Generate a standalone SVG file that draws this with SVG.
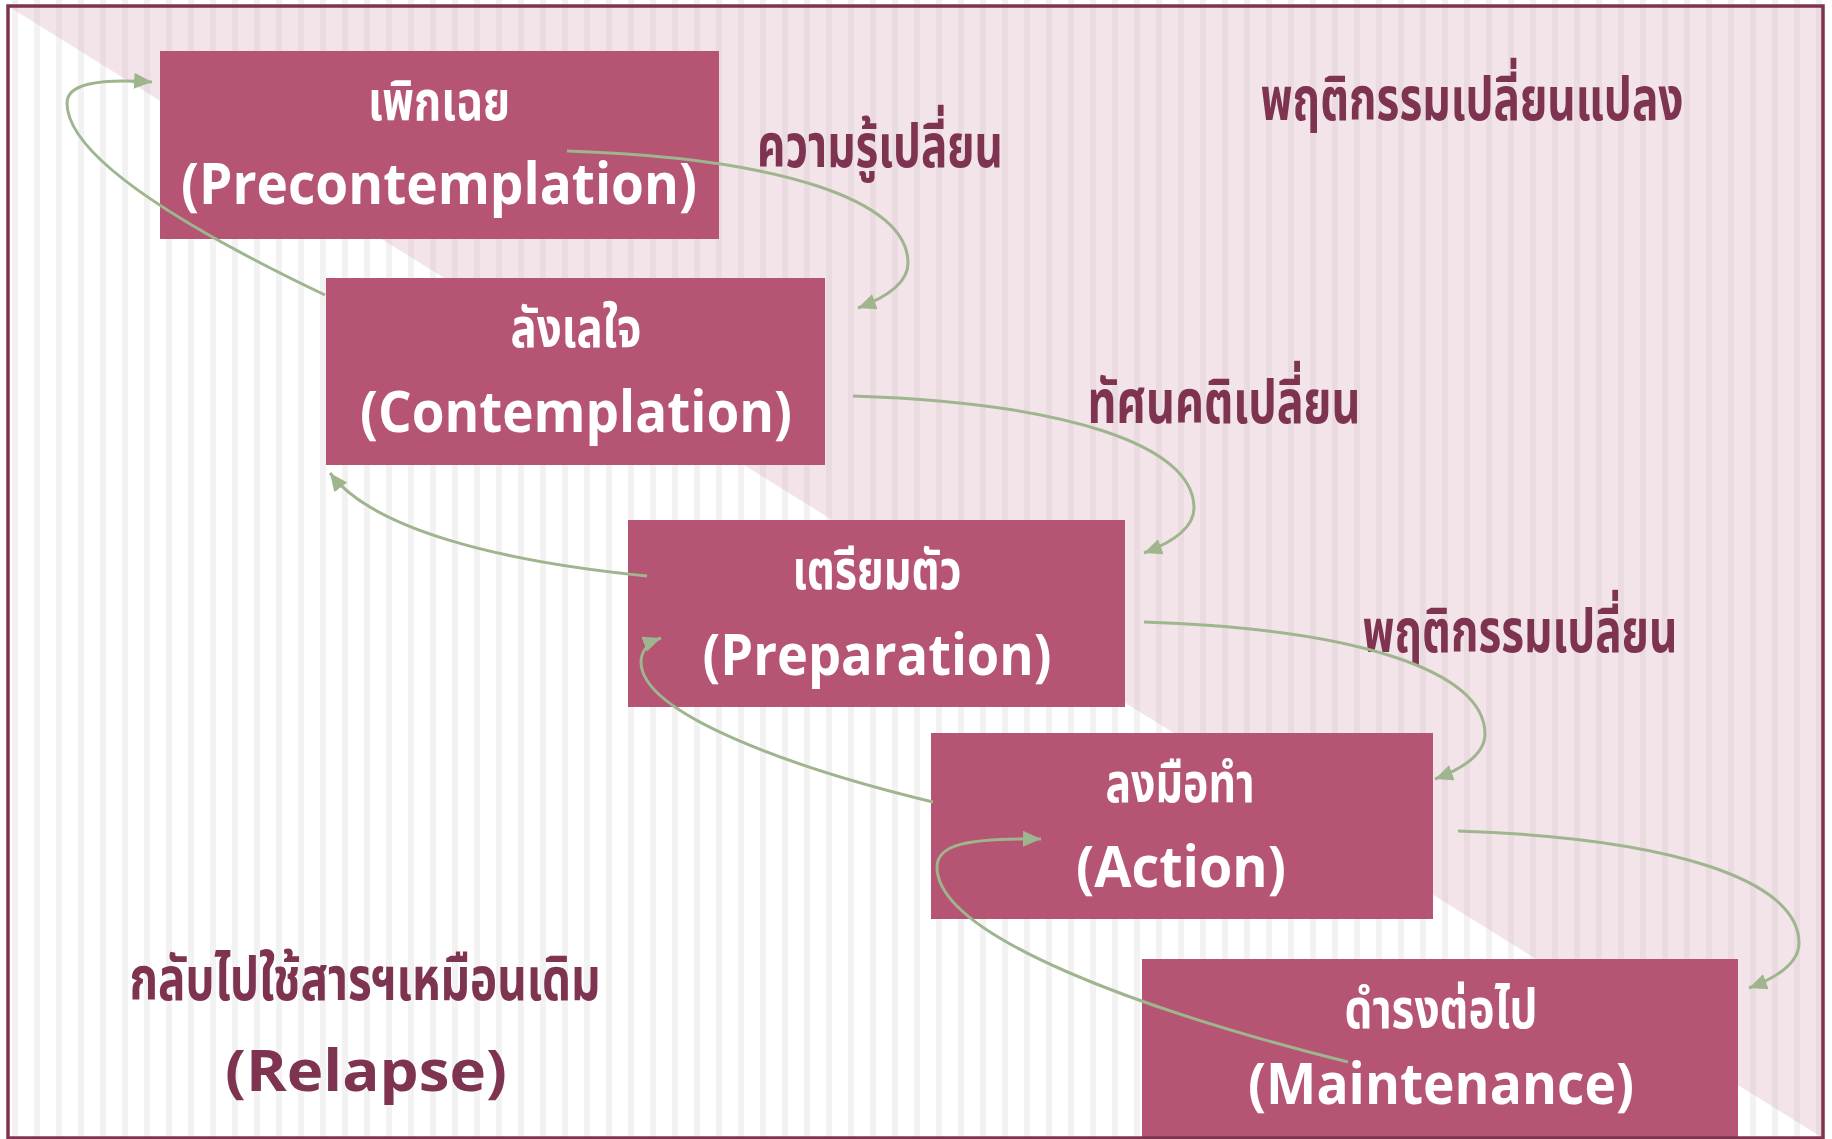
<svg xmlns="http://www.w3.org/2000/svg" width="1832" height="1139" viewBox="0 0 1832 1139">
<style>
.box{fill:#B55473}
.th{font-family:"Noto Sans Thai","Noto Looped Thai","Leelawadee UI",Tahoma,Garuda,Loma,sans-serif;font-weight:700;text-anchor:middle}
.en{font-family:"Open Sans",Lato,"Liberation Sans",sans-serif;font-weight:700;text-anchor:middle;font-variant-ligatures:none}
.wt{fill:#FFFFFF}
.mr{fill:#7E3451}
.bx-th{font-size:55px}
.bx-en{font-size:57px}
.lb-th{font-size:60px}
.con{fill:none;stroke:#9EB58D;stroke-width:3;marker-end:url(#ah)}
</style>
<defs>
<pattern id="stW" patternUnits="userSpaceOnUse" x="0" y="0" width="22" height="20">
<rect width="22" height="20" fill="#FFFFFF"/>
<rect x="12" width="6" height="20" fill="#F2F2F2"/>
</pattern>
<pattern id="stP" patternUnits="userSpaceOnUse" x="0" y="0" width="22" height="20">
<rect width="22" height="20" fill="#F2E4E9"/>
<rect x="12" width="6" height="20" fill="#EADBE1"/>
</pattern>
<marker id="ah" markerUnits="userSpaceOnUse" markerWidth="20" markerHeight="18" refX="18" refY="8" orient="auto">
<path d="M0,0 L18,8 L0,16 z" fill="#9EB58D"/>
</marker>
</defs>
<g id="background">
<rect x="0" y="0" width="1832" height="1139" fill="url(#stW)"/>
<polygon points="8,6 1823,6 1823,1138" fill="url(#stP)"/>
</g>
<g id="node-precontemplation">
<rect class="box" x="160" y="51" width="559" height="188"/>
<text class="th wt bx-th" x="439" y="120" textLength="142" lengthAdjust="spacingAndGlyphs">เพิกเฉย</text>
<text class="en wt bx-en" x="439" y="204" textLength="516" lengthAdjust="spacingAndGlyphs">(Precontemplation)</text>
</g>
<g id="node-contemplation">
<rect class="box" x="326" y="278" width="499" height="187"/>
<text class="th wt bx-th" x="576" y="347" textLength="131" lengthAdjust="spacingAndGlyphs">ลังเลใจ</text>
<text class="en wt bx-en" x="576" y="432" textLength="432" lengthAdjust="spacingAndGlyphs">(Contemplation)</text>
</g>
<g id="node-preparation">
<rect class="box" x="628" y="520" width="497" height="187"/>
<text class="th wt bx-th" x="877" y="589" textLength="169" lengthAdjust="spacingAndGlyphs">เตรียมตัว</text>
<text class="en wt bx-en" x="877" y="675" textLength="349" lengthAdjust="spacingAndGlyphs">(Preparation)</text>
</g>
<g id="node-action">
<rect class="box" x="931" y="733" width="502" height="186"/>
<text class="th wt bx-th" x="1180" y="802" textLength="149" lengthAdjust="spacingAndGlyphs">ลงมือทำ</text>
<text class="en wt bx-en" x="1181" y="887" textLength="210" lengthAdjust="spacingAndGlyphs">(Action)</text>
</g>
<g id="node-maintenance">
<rect class="box" x="1142" y="959" width="596" height="180"/>
<text class="th wt bx-th" x="1441" y="1028" textLength="193" lengthAdjust="spacingAndGlyphs">ดำรงต่อไป</text>
<text class="en wt bx-en" x="1441" y="1104" textLength="386" lengthAdjust="spacingAndGlyphs">(Maintenance)</text>
</g>
<g id="node-relapse">
<text class="th mr lb-th" x="365" y="1000" textLength="471" lengthAdjust="spacingAndGlyphs">กลับไปใช้สารฯเหมือนเดิม</text>
<text class="en mr bx-en" x="366" y="1091" textLength="282" lengthAdjust="spacingAndGlyphs">(Relapse)</text>
</g>
<g id="labels">
<text class="th mr lb-th" x="880" y="167" textLength="246" lengthAdjust="spacingAndGlyphs">ความรู้เปลี่ยน</text>
<text class="th mr lb-th" x="1472" y="120" textLength="423" lengthAdjust="spacingAndGlyphs">พฤติกรรมเปลี่ยนแปลง</text>
<text class="th mr lb-th" x="1224" y="423" textLength="273" lengthAdjust="spacingAndGlyphs">ทัศนคติเปลี่ยน</text>
<text class="th mr lb-th" x="1520" y="652" textLength="315" lengthAdjust="spacingAndGlyphs">พฤติกรรมเปลี่ยน</text>
</g>
<g id="connectors">
<path class="con" d="M567,151 C780,158 908,200 908,263 C908,282 890,296 858,308"/>
<path class="con" transform="translate(286,245)" d="M567,151 C780,158 908,200 908,263 C908,282 890,296 858,308"/>
<path class="con" transform="translate(577,471)" d="M567,151 C780,158 908,200 908,263 C908,282 890,296 858,308"/>
<path class="con" transform="translate(891,680)" d="M567,151 C780,158 908,200 908,263 C908,282 890,296 858,308"/>
<path class="con" d="M325,295 C216,243 67,163 67,103 C67,85 95,78 152,82"/>
<path class="con" d="M647,576 C497,561 372,529 330,473"/>
<path class="con" d="M933,802 C800,770 641,715 641,662 C641,650 650,642 661,638"/>
<path class="con" d="M1348,1062 C1148,1012 937,937 937,867 C937,845 965,838 1041,839"/>
</g>
<rect id="frame" x="8" y="6" width="1815" height="1132" fill="none" stroke="#7E3451" stroke-width="3.5"/>
</svg>
